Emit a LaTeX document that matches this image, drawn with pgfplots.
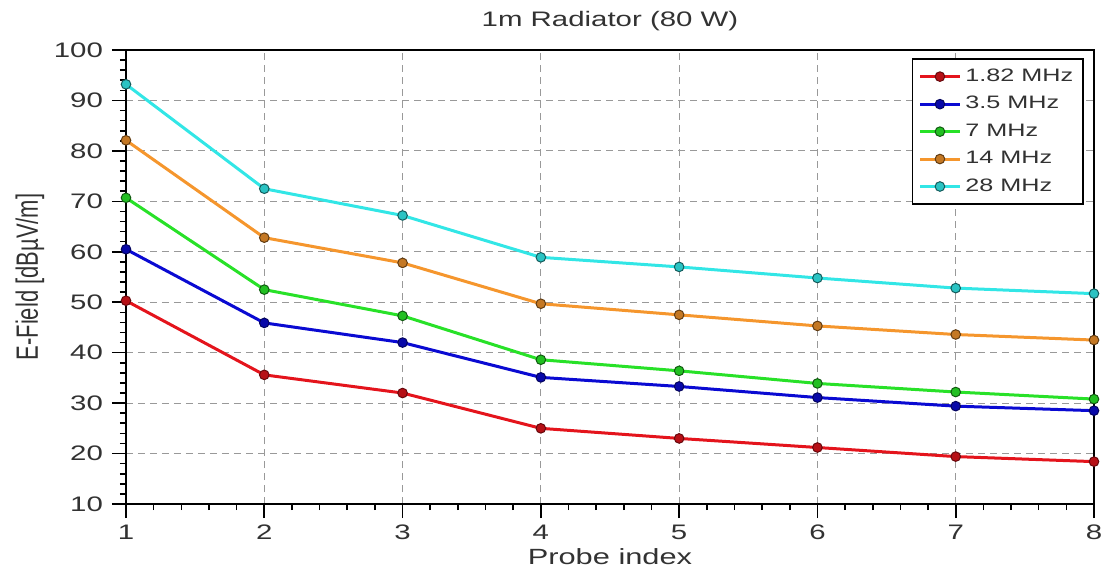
\documentclass[border=0pt]{standalone}
\usepackage{graphicx}
\usepackage{pgfplots}
\pgfplotsset{compat=1.18}
\usepackage{fontspec}
\setmainfont{Liberation Sans}[FakeStretch=1.4]
\newfontfamily\plainfont{Liberation Sans}
\definecolor{cRed}{RGB}{228,20,28}
\definecolor{cBlue}{RGB}{10,10,210}
\definecolor{cGreen}{RGB}{40,225,40}
\definecolor{cOrange}{RGB}{245,150,45}
\definecolor{cCyan}{RGB}{50,230,230}
\definecolor{txt}{RGB}{50,50,50}
\begin{document}
\begin{tikzpicture}
\useasboundingbox (-63pt,-32pt) rectangle (488.5pt,252pt);
\begin{axis}[
  at={(0,0)}, anchor=south west,
  scale only axis, width=484pt, height=227pt,
  xmin=1, xmax=8, ymin=10, ymax=100,
  xtick={1,...,8}, ytick={10,20,...,100},
  minor x tick num=4, minor y tick num=4,
  xtick pos=left, ytick pos=left,
  tick align=outside,
  major tick length=7pt, minor tick length=3pt,
  tick style={black, line width=0.8pt},
  axis line style={black, line width=0.8pt},
  grid=major,
  major grid style={gray!80, dash pattern=on 3.5pt off 2.5pt, line width=0.5pt},
  /pgf/number format/assume math mode=true,
  ticklabel style={font=\fontsize{10.5}{12}\selectfont, text=txt},
  xticklabel style={yshift=0pt},
  yticklabel style={xshift=-1pt},
  title={1m Radiator (80 W)},
  title style={font=\fontsize{10.5}{12}\selectfont, text=txt, yshift=0pt},
  xlabel={Probe index},
  xlabel style={font=\fontsize{11}{12}\selectfont, text=txt, yshift=2.5pt},
  ylabel={\scalebox{1}[1.4]{\plainfont\fontsize{11}{12}\selectfont E-Field [dBµV/m]}},
  ylabel style={text=txt, yshift=-2pt},
  legend style={at={(1,1)}, anchor=north east, xshift=-5pt, yshift=-4pt,
    draw=black, line width=0.8pt, font=\fontsize{9}{10}\selectfont, text=txt,
    row sep=2pt, inner sep=3pt},
  legend cell align=left,
  legend image code/.code={\draw[mark repeat=2,mark phase=2] plot coordinates {(0cm,0cm) (0.35cm,0cm) (0.7cm,0cm)};},
  every axis plot/.append style={line width=1.5pt},
]
\addplot[cRed, mark=*, mark size=2.4pt, mark options={fill=cRed!80!black, draw=cRed!45!black, line width=0.5pt}]
 coordinates {(1,50.3) (2,35.6) (3,32.0) (4,25.0) (5,23.0) (6,21.2) (7,19.4) (8,18.4)};
\addlegendentry{1.82 MHz}
\addplot[cBlue, mark=*, mark size=2.4pt, mark options={fill=cBlue!80!black, draw=cBlue!45!black, line width=0.5pt}]
 coordinates {(1,60.5) (2,45.9) (3,42.0) (4,35.1) (5,33.3) (6,31.1) (7,29.4) (8,28.5)};
\addlegendentry{3.5 MHz}
\addplot[cGreen, mark=*, mark size=2.4pt, mark options={fill=cGreen!85!black, draw=cGreen!40!black, line width=0.5pt}]
 coordinates {(1,70.7) (2,52.5) (3,47.3) (4,38.6) (5,36.4) (6,33.9) (7,32.2) (8,30.8)};
\addlegendentry{7 MHz}
\addplot[cOrange, mark=*, mark size=2.4pt, mark options={fill=cOrange!80!black, draw=cOrange!40!black, line width=0.5pt}]
 coordinates {(1,82.1) (2,62.8) (3,57.8) (4,49.7) (5,47.5) (6,45.3) (7,43.6) (8,42.5)};
\addlegendentry{14 MHz}
\addplot[cCyan, mark=*, mark size=2.4pt, mark options={fill=cCyan!85!black, draw=cCyan!40!black, line width=0.5pt}]
 coordinates {(1,93.2) (2,72.5) (3,67.2) (4,58.9) (5,57.0) (6,54.8) (7,52.8) (8,51.7)};
\addlegendentry{28 MHz}
\end{axis}
\end{tikzpicture}
\end{document}
